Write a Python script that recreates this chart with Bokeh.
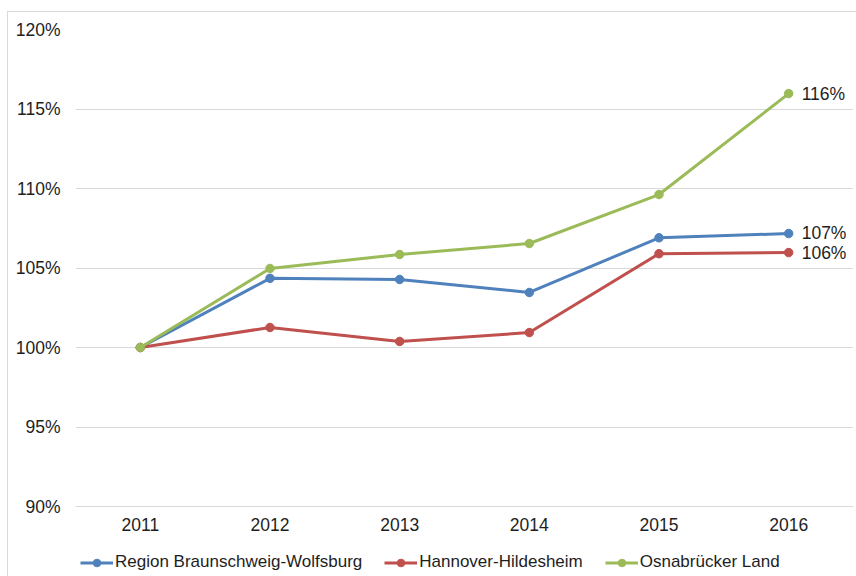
from bokeh.plotting import figure
from bokeh.layouts import column
from bokeh.models import (FactorRange, Range1d, FixedTicker, PrintfTickFormatter,
                          Legend, LegendItem, ColumnDataSource)
from bokeh.core.properties import value
from bokeh.embed import file_html
from bokeh.resources import INLINE

years = ["2011", "2012", "2013", "2014", "2015", "2016"]
braunschweig = [100.0, 104.35, 104.28, 103.46, 106.9, 107.17]
hannover = [100.0, 101.26, 100.38, 100.94, 105.9, 105.97]
osnabrueck = [100.0, 104.97, 105.85, 106.54, 109.62, 115.97]
series_names = ["Region Braunschweig-Wolfsburg", "Hannover-Hildesheim", "Osnabrücker Land"]
series_colors = ["#4f81bd", "#c0504d", "#9bbb59"]
end_labels = ["107%", "106%", "116%"]
y_ticks = [90, 95, 100, 105, 110, 115, 120]

FONT = "Liberation Sans"
TXT = "#1e1e1e"
FS = "17.5px"

p = figure(width=848, height=536, output_backend="svg", toolbar_location=None,
           x_range=FactorRange(factors=years), y_range=Range1d(90, 120),
           min_border_left=67, min_border_right=3, min_border_top=17, min_border_bottom=42)
p.outline_line_color = None
p.background_fill_color = "white"
p.border_fill_color = "white"

p.xgrid.grid_line_color = None
p.ygrid.grid_line_color = "#d9d9d9"
p.ygrid.grid_line_width = 1
p.ygrid.ticker = FixedTicker(ticks=y_ticks)

p.yaxis.ticker = FixedTicker(ticks=y_ticks)
p.yaxis.formatter = PrintfTickFormatter(format="%d%%")
p.yaxis.axis_line_color = None
p.yaxis.major_tick_line_color = None
p.yaxis.minor_tick_line_color = None
p.yaxis.major_tick_out = 0
p.yaxis.major_tick_in = 0
p.yaxis.major_label_standoff = 15

p.xaxis.axis_line_color = "#d9d9d9"
p.xaxis.major_tick_line_color = None
p.xaxis.minor_tick_line_color = None
p.xaxis.major_tick_out = 0
p.xaxis.major_tick_in = 0
p.xaxis.major_label_standoff = 11

for ax in (p.xaxis[0], p.yaxis[0]):
    ax.major_label_text_font = FONT
    ax.major_label_text_font_size = FS
    ax.major_label_text_color = TXT

# legend strip below the chart (same data, out of its view; only the legend shows)
pl = figure(width=848, height=28, output_backend="svg", toolbar_location=None,
            x_range=FactorRange(factors=years), y_range=Range1d(0, 1),
            x_axis_location=None, y_axis_location=None,
            min_border_left=0, min_border_right=0, min_border_top=0, min_border_bottom=0)
pl.outline_line_color = None
pl.grid.grid_line_color = None
pl.border_fill_color = "white"

items = []
for name, vals, col, lab in zip(series_names, [braunschweig, hannover, osnabrueck],
                                series_colors, end_labels):
    src = ColumnDataSource(dict(x=years, y=vals))
    p.line("x", "y", source=src, line_color=col, line_width=3)
    p.scatter("x", "y", source=src, size=8.5, fill_color=col, line_color=col)
    p.text(x=[years[-1]], y=[vals[-1]], text=[lab], x_offset=13,
           text_baseline="middle", text_align="left",
           text_font=value(FONT), text_font_size=FS, text_color=TXT)
    ln = pl.line("x", "y", source=src, line_color=col, line_width=3)
    sc = pl.scatter("x", "y", source=src, size=8.5, fill_color=col, line_color=col)
    items.append(LegendItem(label=name, renderers=[ln, sc]))

legend = Legend(items=items, orientation="horizontal", location=(5, 4),
                glyph_width=33, glyph_height=19, label_standoff=2, spacing=22,
                padding=0, margin=0, border_line_color=None,
                label_text_font=FONT, label_text_font_size="17px",
                label_text_color=TXT, background_fill_alpha=0)
pl.add_layout(legend)

layout = column(p, pl, spacing=0, margin=(11, 0, 0, 7),
                styles={"border-left": "1px solid #d9d9d9", "border-top": "1px solid #d9d9d9"})

open("out.html", "w").write(file_html(layout, INLINE))
